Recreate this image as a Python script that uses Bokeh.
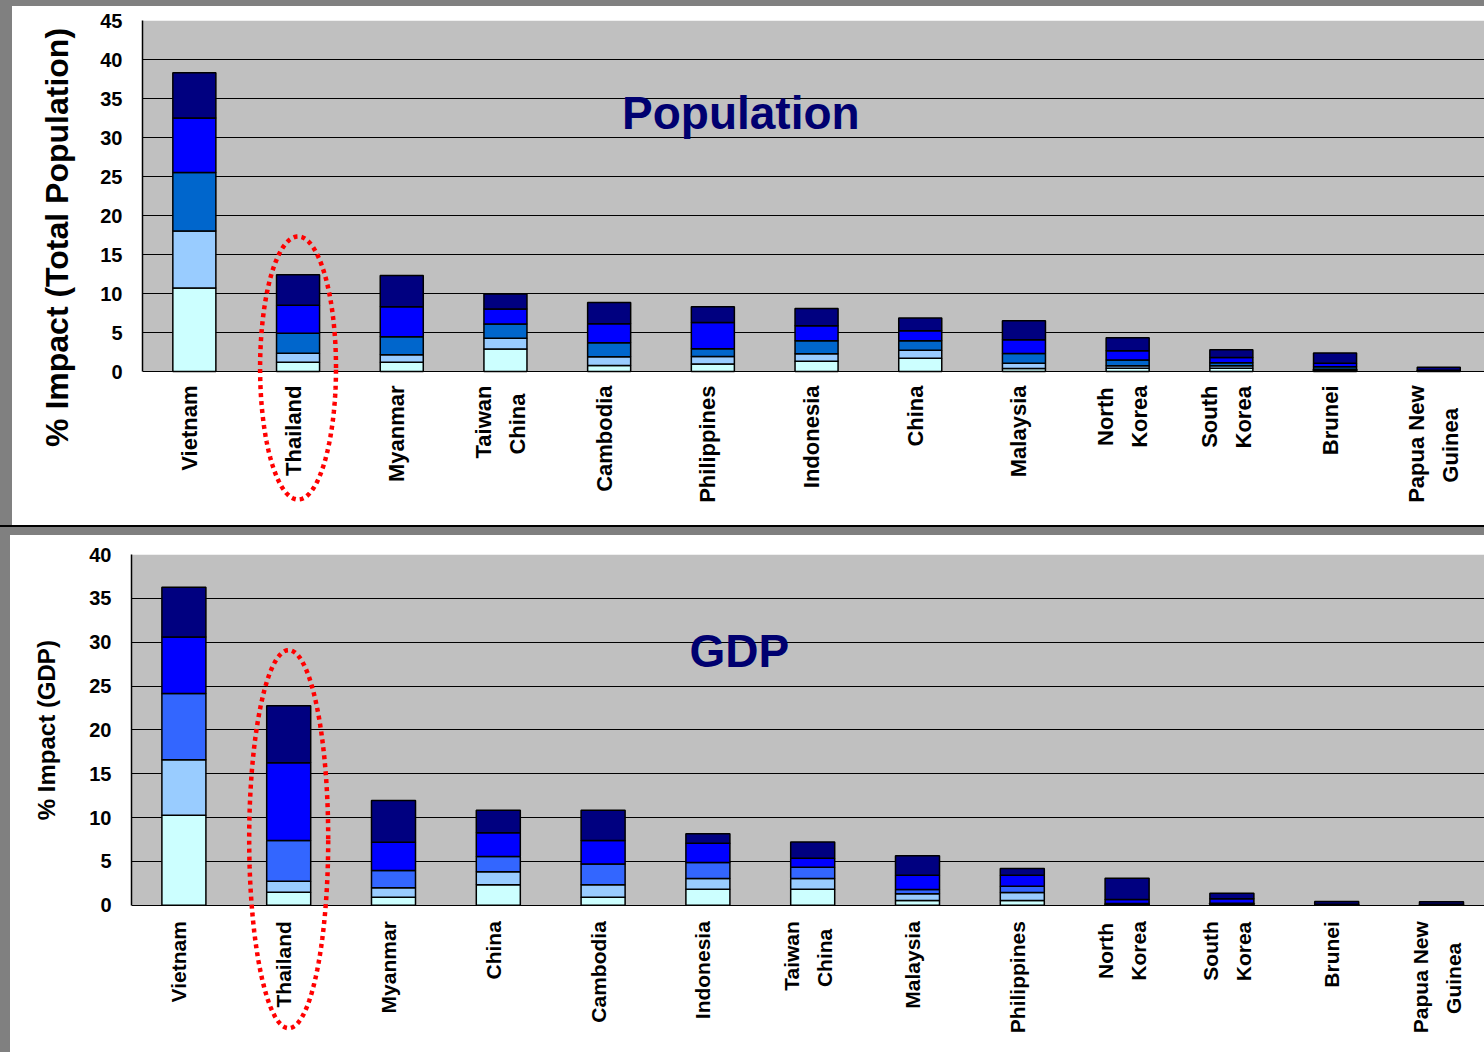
import numpy as np
from bokeh.plotting import figure
from bokeh.models import (ColumnDataSource, Range1d, FixedTicker, Label,
                          PolyAnnotation, BoxAnnotation, Spacer)
from bokeh.core.properties import value
from bokeh.layouts import column, row
from bokeh.embed import file_html
from bokeh.resources import INLINE

# ---------------- data ----------------
pop_countries = ["Vietnam", "Thailand", "Myanmar", "Taiwan\nChina", "Cambodia",
                 "Philippines", "Indonesia", "China", "Malaysia", "North\nKorea",
                 "South\nKorea", "Brunei", "Papua New\nGuinea"]
pop_s1 = [10.7, 1.2, 1.2, 2.9, 0.77, 0.95, 1.33, 1.71, 0.39, 0.43, 0.43, 0.17, 0.03]
pop_s2 = [7.3, 1.15, 0.94, 1.35, 1.12, 0.98, 0.94, 1.03, 0.68, 0.30, 0.30, 0.13, 0.03]
pop_s3 = [7.5, 2.55, 2.31, 1.85, 1.79, 0.98, 1.67, 1.20, 1.24, 0.73, 0.38, 0.30, 0.04]
pop_s4 = [7.0, 3.6, 3.85, 1.90, 2.44, 3.38, 1.92, 1.28, 1.76, 1.19, 0.69, 0.47, 0.06]
pop_s5 = [5.8, 3.9, 4.0, 1.92, 2.74, 2.01, 2.23, 1.63, 2.43, 1.67, 0.98, 1.29, 0.40]

gdp_countries = ["Vietnam", "Thailand", "Myanmar", "China", "Cambodia",
                 "Indonesia", "Taiwan\nChina", "Malaysia", "Philippines",
                 "North\nKorea", "South\nKorea", "Brunei", "Papua New\nGuinea"]
gdp_s1 = [10.27, 1.48, 0.91, 2.32, 0.91, 1.83, 1.83, 0.53, 0.53, 0.05, 0.05, 0.02, 0.02]
gdp_s2 = [6.31, 1.26, 1.07, 1.48, 1.41, 1.21, 1.21, 0.76, 0.92, 0.05, 0.05, 0.02, 0.02]
gdp_s3 = [7.56, 4.64, 1.97, 1.75, 2.39, 1.83, 1.29, 0.50, 0.72, 0.10, 0.12, 0.03, 0.03]
gdp_s4 = [6.46, 8.86, 3.24, 2.70, 2.67, 2.20, 1.03, 1.63, 1.25, 0.45, 0.50, 0.05, 0.05]
gdp_s5 = [5.67, 6.50, 4.75, 2.59, 3.46, 1.07, 1.86, 2.21, 0.76, 2.43, 0.65, 0.30, 0.28]

pop_ticks = [0, 5, 10, 15, 20, 25, 30, 35, 40, 45]
gdp_ticks = [0, 5, 10, 15, 20, 25, 30, 35, 40]

# ---------------- styling ----------------
FONT = "Liberation Sans"
POP_COLORS = ["#CCFFFF", "#99CCFF", "#0066CC", "#0000FF", "#000080"]
GDP_COLORS = ["#CCFFFF", "#99CCFF", "#3366FF", "#0000FF", "#000080"]
TITLE_COLOR = "#000070"
NBSP = "\u00a0"

# Liberation Sans Bold advance widths (em), used to centre stacked label lines
_W = {"a": .556, "b": .611, "c": .556, "d": .611, "e": .556, "f": .333,
      "g": .611, "h": .611, "i": .278, "j": .278, "k": .556, "l": .278,
      "m": .889, "n": .611, "o": .611, "p": .611, "q": .611, "r": .389,
      "s": .556, "t": .333, "u": .611, "v": .556, "w": .778, "x": .556,
      "y": .556, "z": .5, " ": .278}


def text_width(s, size):
    return sum(_W.get(ch, .72) for ch in s) * size


def make_panel(countries, series, colors, ticks, y_max, width, height,
               border_left, border_top, px_per_unit, px_per_cat, bar_width,
               y_title, y_title_size, y_title_standoff, title, title_x, title_y,
               label_size, label_gap, line_gap, ellipse):
    n = len(countries)
    frame_w = width - border_left
    frame_h = height - border_top
    x_end = -0.5 + frame_w / px_per_cat
    y_start = y_max - frame_h / px_per_unit

    data = {"x": list(range(n))}
    names = []
    for i, s in enumerate(series):
        key = f"s{i + 1}"
        data[key] = s
        names.append(key)
    src = ColumnDataSource(data)

    p = figure(width=width, height=height, output_backend="svg",
               toolbar_location=None, x_range=Range1d(-0.5, x_end),
               y_range=Range1d(y_start, y_max),
               min_border_left=border_left, min_border_right=0,
               min_border_top=border_top, min_border_bottom=0,
               styles={"background-color": "white"})
    p.background_fill_color = "white"
    p.border_fill_color = "white"
    p.outline_line_color = None

    # grey plotting area from 0 up to the top of the value axis
    p.add_layout(BoxAnnotation(bottom=0, top=y_max, fill_color="#C0C0C0",
                               fill_alpha=1, line_color=None, level="image"))

    p.vbar_stack(names, x="x", width=bar_width, color=colors,
                 line_color="black", line_width=1.5, source=src)

    p.xgrid.grid_line_color = None
    p.ygrid.ticker = FixedTicker(ticks=ticks)
    p.ygrid.grid_line_color = "black"
    p.ygrid.grid_line_width = 1

    p.xaxis.visible = False

    yax = p.yaxis[0]
    yax.ticker = FixedTicker(ticks=ticks)
    yax.bounds = (0, y_max)
    yax.major_tick_in = 0
    yax.major_tick_out = 0
    yax.minor_tick_in = 0
    yax.minor_tick_out = 0
    yax.major_label_standoff = 20
    yax.major_label_text_font = FONT
    yax.major_label_text_font_style = "bold"
    yax.major_label_text_font_size = "20px"
    yax.major_label_text_color = "black"
    yax.axis_line_color = "black"
    yax.axis_line_width = 1.5
    yax.axis_label = y_title
    yax.axis_label_text_font = FONT
    yax.axis_label_text_font_style = "bold"
    yax.axis_label_text_font_size = y_title_size
    yax.axis_label_text_color = "black"
    yax.axis_label_standoff = y_title_standoff

    # vertical category labels below the bars, lines centred within a block
    lx, ly, lt = [], [], []
    for i, name in enumerate(countries):
        lines = name.split("\n")
        widest = max(text_width(ln, label_size) for ln in lines)
        for j, ln in enumerate(lines):
            off_px = (j - (len(lines) - 1) / 2) * line_gap - 5
            drop_px = label_gap + (widest - text_width(ln, label_size)) / 2
            lx.append(i + off_px / px_per_cat)
            ly.append(-drop_px / px_per_unit)
            lt.append(ln)
    p.text(x=lx, y=ly, text=lt, angle=np.pi / 2, text_align="right",
           text_baseline="middle", text_font=value(FONT),
           text_font_style="bold", text_font_size=f"{label_size}px",
           text_color="black")

    p.add_layout(Label(x=title_x, y=title_y, text=title, text_align="center",
                       text_baseline="middle", text_font=FONT,
                       text_font_style="bold", text_font_size="46px",
                       text_color=TITLE_COLOR))

    cx, cy, ax, ay = ellipse
    t = np.linspace(0, 2 * np.pi, 240)
    p.add_layout(PolyAnnotation(xs=list(cx + ax * np.cos(t)),
                                ys=list(cy + ay * np.sin(t)),
                                xs_units="data", ys_units="data",
                                fill_color=None, fill_alpha=0,
                                line_color="#FF0000", line_alpha=1,
                                line_width=4.5, line_dash="4 4"))
    return p


# leading no-break spaces lift the rotated axis titles above the frame centre
p_pop = make_panel(pop_countries, [pop_s1, pop_s2, pop_s3, pop_s4, pop_s5],
                   POP_COLORS, pop_ticks, 45, 1472, 519, 130, 14, 7.8, 103.7,
                   0.415, NBSP * 8 + "% Impact (Total Population)", "32px", 22,
                   "Population", 5.27, 33.1, 22, 14, 34,
                   (1.0, 0.45, 0.366, 16.86))

p_gdp = make_panel(gdp_countries, [gdp_s1, gdp_s2, gdp_s3, gdp_s4, gdp_s5],
                   GDP_COLORS, gdp_ticks, 40, 1474, 517, 121, 19, 8.767, 104.8,
                   0.42, NBSP * 22 + "% Impact (GDP)", "24px", 26,
                   "GDP", 5.3, 28.95, 21, 16, 33,
                   (1.0, 7.53, 0.377, 21.56))

layout = column(
    Spacer(width=1484, height=6),
    row(Spacer(width=12, height=519), p_pop),
    Spacer(width=1484, height=2, styles={"background-color": "black"}),
    Spacer(width=1484, height=8),
    row(Spacer(width=10, height=517), p_gdp),
    styles={"background-color": "#808080"},
)

open("out.html", "w").write(file_html(layout, INLINE))
